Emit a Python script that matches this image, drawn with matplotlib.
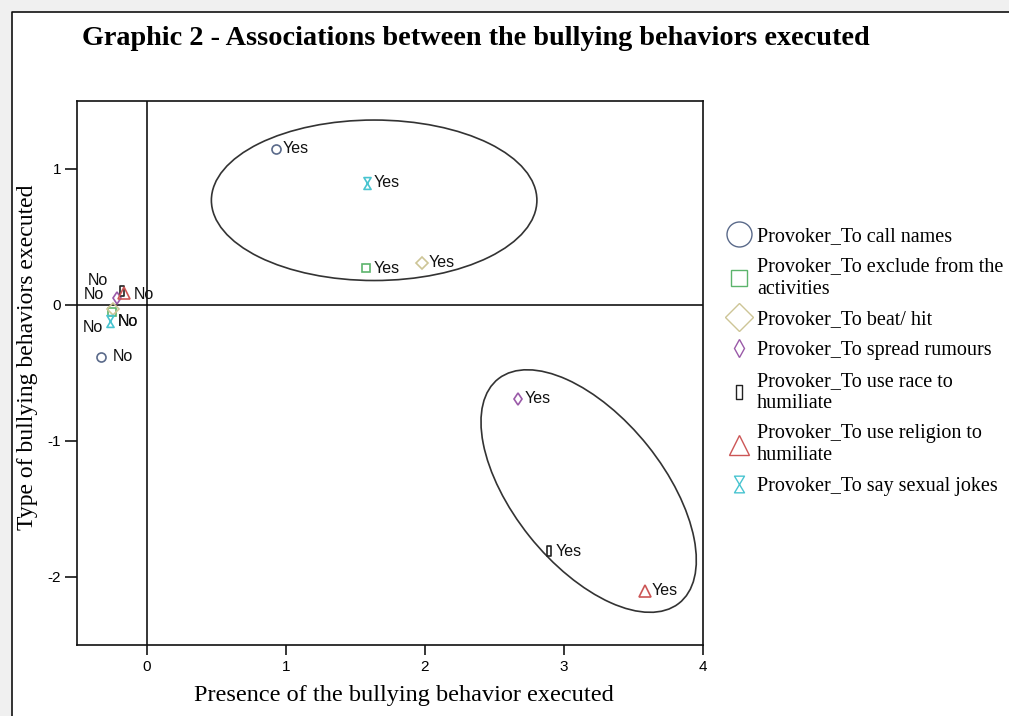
import matplotlib
matplotlib.use("Agg")
import matplotlib.pyplot as plt
from matplotlib.lines import Line2D
from matplotlib.patches import Ellipse, Rectangle
from matplotlib.path import Path

# data
behaviors = [
    "Provoker_To call names",
    "Provoker_To exclude from the\nactivities",
    "Provoker_To beat/ hit",
    "Provoker_To spread rumours",
    "Provoker_To use race to\nhumiliate",
    "Provoker_To use religion to\nhumiliate",
    "Provoker_To say sexual jokes",
]
yes_x = [0.93, 1.58, 1.98, 2.67, 2.89, 3.58, 1.585]
yes_y = [1.15, 0.27, 0.31, -0.69, -1.81, -2.10, 0.90]
no_x = [-0.33, -0.25, -0.24, -0.21, -0.18, -0.16, -0.26]
no_y = [-0.38, -0.05, -0.03, 0.05, 0.10, 0.09, -0.12]
xticks = [0, 1, 2, 3, 4]
yticks = [1, 0, -1, -2]

# group ellipses (center x, center y, width, height, angle)
groups = [(1.636, 0.77, 2.34, 1.18, 0), (3.178, -1.368, 2.10, 1.08, -52)]

# styles
hourglass = Path([(-0.6, 1), (0.6, 1), (-0.6, -1), (0.6, -1), (-0.6, 1)],
                 [Path.MOVETO, Path.LINETO, Path.LINETO, Path.LINETO, Path.CLOSEPOLY])
slim_rect = Path([(-0.5, -1), (0.5, -1), (0.5, 1), (-0.5, 1), (-0.5, -1)],
                 [Path.MOVETO, Path.LINETO, Path.LINETO, Path.LINETO, Path.CLOSEPOLY])
markers = ["o", "s", "D", "d", slim_rect, "^", hourglass]
colors = ["#5a6a8a", "#5cb46c", "#cdc596", "#9a5aa8", "#222222", "#cc5656", "#48c4d0"]
plot_ms = [6.5, 5.2, 6.4, 6.6, 6.7, 8, 8.5]
legend_ms = [18, 12, 14, 9, 9.4, 15, 12]
# label offsets in points (dx, dy)
yes_off = [(5, 0)] * 7
no_off = [(8.5, 0), (-21, -11), (3.5, -8.8), (-21, 12.5), (-27, -2.5), (6.5, -1), (5.5, 0)]

SERIF = "Liberation Serif"
SANS = "Liberation Sans"
plt.rcParams["axes.unicode_minus"] = False

fig = plt.figure(figsize=(10.09, 7.16), dpi=100)
W, H = 1009, 716

# page frame with light shadow
fig.patches.append(Rectangle((0, 0), 12 / W, 1, transform=fig.transFigure,
                             facecolor="#f0f0f0", edgecolor="none", zorder=0))
fig.patches.append(Rectangle((0, 1 - 12 / H), 1, 12 / H, transform=fig.transFigure,
                             facecolor="#f0f0f0", edgecolor="none", zorder=0))
fig.lines.append(Line2D([12 / W, 12 / W, 1], [0, 1 - 12 / H, 1 - 12 / H],
                        transform=fig.transFigure, color="#111111", lw=1.2))

ax = fig.add_axes([77 / W, 1 - 645 / H, 626 / W, 544 / H])
ax.set_xlim(-0.5, 4)
ax.set_ylim(-2.5, 1.5)

ax.axvline(0, color="black", lw=1.1, zorder=1)
ax.axhline(0, color="black", lw=1.1, zorder=1)

for cx, cy, w, h, ang in groups:
    ax.add_patch(Ellipse((cx, cy), w, h, angle=ang, fill=False,
                         edgecolor="#333333", lw=1.2, zorder=2))

for i in range(len(behaviors)):
    for xs, ys, offs, txt in ((yes_x, yes_y, yes_off, "Yes"), (no_x, no_y, no_off, "No")):
        ax.plot(xs[i], ys[i], marker=markers[i], ls="none", mfc="none",
                mec=colors[i], ms=plot_ms[i], mew=1.2, zorder=3)
        ax.annotate(txt, (xs[i], ys[i]), xytext=offs[i], textcoords="offset points",
                    ha="left", va="center", fontsize=11.5, family=SANS,
                    color="#111111", zorder=4)

ax.set_xticks(xticks)
ax.set_yticks(yticks)
ax.tick_params(axis="x", length=7, width=1.1, pad=3.5, labelsize=11)
ax.tick_params(axis="y", length=8.5, width=1.1, pad=3, labelsize=11)
for lab in ax.get_xticklabels() + ax.get_yticklabels():
    lab.set_family(SANS)
for sp in ax.spines.values():
    sp.set_linewidth(1.2)
    sp.set_color("#111111")

fig.text(82 / W, 1 - 45 / H, "Graphic 2 - Associations between the bullying behaviors executed",
         fontsize=20.3, fontweight="bold", family=SERIF, ha="left", va="baseline")
fig.text(404 / W, 1 - 696 / H, "Presence of the bullying behavior executed",
         fontsize=17.5, family=SERIF, ha="center", va="center")
fig.text(28 / W, 1 - 357 / H, "Type of bullying behaviors executed",
         fontsize=17, family=SERIF, ha="center", va="center", rotation=90)

handles = [Line2D([], [], marker=markers[i], ls="none", mfc="none", mec=colors[i],
                  ms=legend_ms[i], mew=1.0) for i in range(len(behaviors))]
fig.legend(handles, behaviors, loc="upper left", bbox_to_anchor=(727 / W, 1 - 227 / H),
           bbox_transform=fig.transFigure, frameon=False, borderpad=0, borderaxespad=0,
           handlelength=1.2, handletextpad=0.3, labelspacing=0.58,
           prop={"family": SERIF, "size": 14.5})

fig.savefig("out.png", dpi=100)
